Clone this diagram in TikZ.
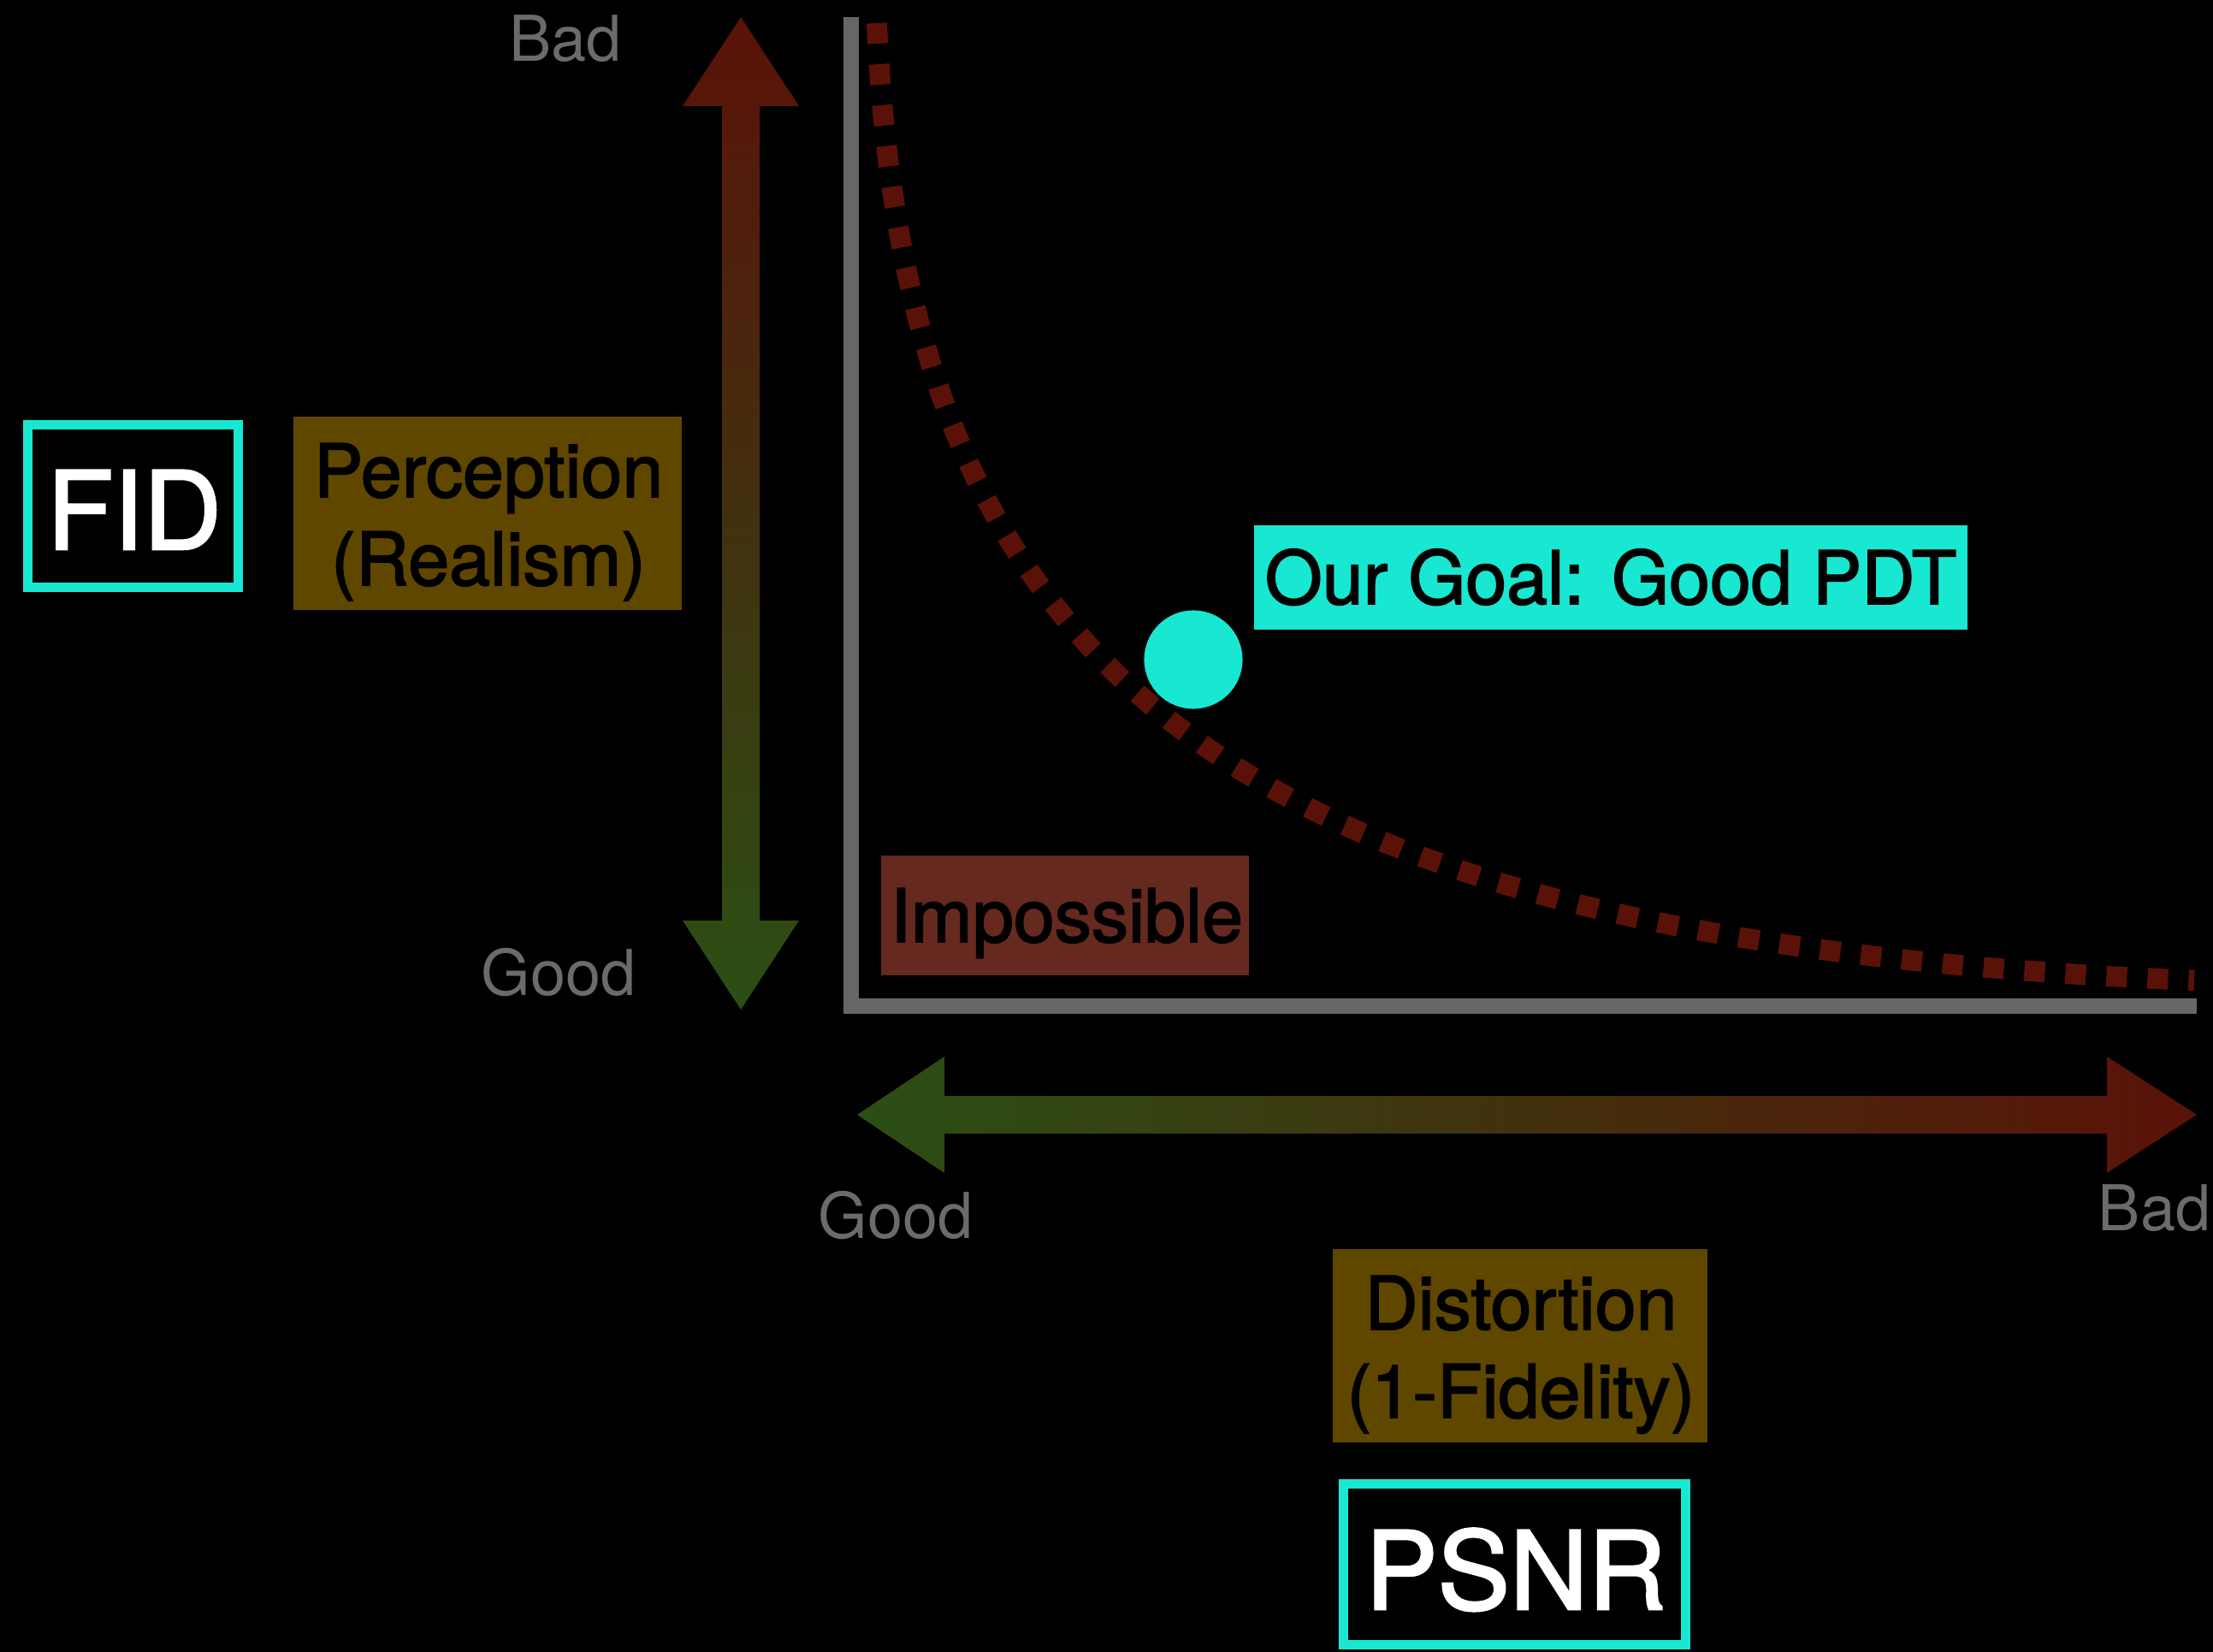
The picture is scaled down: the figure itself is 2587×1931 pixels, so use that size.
\documentclass[tikz,border=0pt]{standalone}
\usepackage{fontspec}
\setmainfont{TeX Gyre Heros}
\newfontfamily\medfont[FakeBold=2]{TeX Gyre Heros}
\definecolor{axisgray}{HTML}{666666}
\definecolor{labelgray}{HTML}{6B6B6B}
\definecolor{darkred}{HTML}{5A1208}
\definecolor{darkgreen}{HTML}{2B4F14}
\definecolor{gold}{HTML}{5F4700}
\definecolor{brick}{HTML}{652920}
\definecolor{aqua}{HTML}{18E7D2}
\begin{document}
\begin{tikzpicture}[x=0.01cm,y=-0.01cm,
  lab/.style={text=labelgray, font=\fontsize{21}{25}\selectfont, inner sep=0pt, anchor=base},
  boxbg/.style={inner sep=0pt},
  boxtext/.style={inner sep=0pt, anchor=base, text=black, font=\medfont\fontsize{24.5}{29}\selectfont},
  metricbox/.style={draw=aqua, line width=3.13pt, fill=black, inner sep=0pt},
  metrictext/.style={inner sep=0pt, anchor=base, text=white, font=\medfont\fontsize{36}{40}\selectfont},
]
\fill[black] (0,0) rectangle (2587,1931);
\useasboundingbox (0,0) rectangle (2587,1931);

% vertical gradient arrow
\shade[top color=darkred, bottom color=darkgreen]
  (866,20) -- (934,124) -- (888,124) -- (888,1076) -- (934,1076) -- (866,1180)
  -- (798,1076) -- (844,1076) -- (844,124) -- (798,124) -- cycle;

% horizontal gradient arrow
\shade[left color=darkgreen, right color=darkred]
  (1002,1303) -- (1104,1235) -- (1104,1281) -- (2463,1281) -- (2463,1235) -- (2568,1303)
  -- (2463,1371) -- (2463,1325) -- (1104,1325) -- (1104,1371) -- cycle;

% axes
\draw[axisgray, line width=5.12pt] (995,20) -- (995,1176) -- (2568,1176);

% trade-off curve
\draw[darkred, line width=6.83pt, dash pattern=on 6.83pt off 6.83pt]
  (1025,27) .. controls (1060,800) and (1450,1100) .. (2565,1146);

% goal point
\node[circle, fill=aqua, minimum size=1.15cm, inner sep=0pt] (goalpt) at (1395,771) {};

% filled boxes
\node[boxbg, fill=aqua, minimum width=8.33cm, minimum height=1.22cm] (goal) at (1883,675) {};
\node[boxtext] (goaltext) at (1883,706) {Our Goal: Good PDT};

\node[boxbg, fill=brick, minimum width=4.29cm, minimum height=1.40cm] (imp) at (1245,1070) {};
\node[boxtext] (imptext) at (1247,1101) {Impossible};

\node[boxbg, fill=gold, minimum width=4.54cm, minimum height=2.26cm] (perc) at (570,600) {};
\node[boxtext] (perctexta) at (571,581) {Perception};
\node[boxtext] (perctextb) at (571,684) {(Realism)};

\node[boxbg, fill=gold, minimum width=4.37cm, minimum height=2.26cm] (dist) at (1777,1573) {};
\node[boxtext] (disttexta) at (1778,1554) {Distortion};
\node[boxtext] (disttextb) at (1778,1657) {(1-Fidelity)};

% metric boxes
\node[metricbox, minimum width=2.46cm, minimum height=1.90cm] (fid) at (155.5,591.5) {};
\node[metrictext] (fidtext) at (157,642) {FID};
\node[metricbox, minimum width=4.00cm, minimum height=1.88cm] (psnr) at (1770.5,1828.5) {};
\node[metrictext] (psnrtext) at (1772,1881) {PSNR};

% gray labels
\node[lab] (badp) at (661,72) {Bad};
\node[lab] (goodp) at (653,1163) {Good};
\node[lab] (goodd) at (1047,1447) {Good};
\node[lab, anchor=base east] (badd) at (2585,1438) {Bad};
\end{tikzpicture}
\end{document}
